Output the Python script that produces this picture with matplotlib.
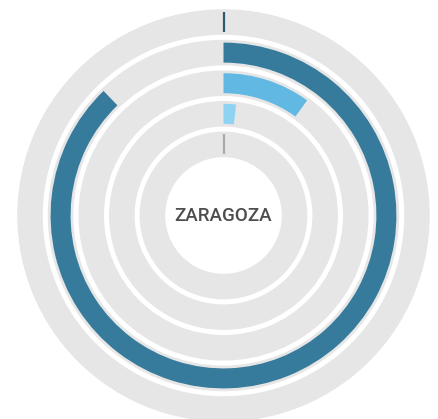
import numpy as np
import matplotlib
matplotlib.use("Agg")
import matplotlib.pyplot as plt

# ============================================
# Data (outer ring -> inner ring, share of full circle)
# ============================================
ring_values = [0.0, 0.878, 0.10, 0.018, 0.0]
ring_colors = ["#2b5b72", "#367b9c", "#61b9e3", "#8fd3f3", "#a9a9a9"]
center_label = "ZARAGOZA"

# ring geometry (in px-like radial units)
r_max = 206.5
ring_mid = [193.5 - 30.6 * k for k in range(len(ring_values))]
track_half = 12.8
bar_half = 10.0

# ============================================
# Plot
# ============================================
fig = plt.figure(figsize=(4.38, 4.19), dpi=100)
ax = fig.add_axes([17 / 438, -3 / 419, 413 / 438, 413 / 419], projection="polar")
ax.set_theta_zero_location("N")
ax.set_theta_direction(-1)
ax.set_rlim(0, r_max)
ax.axis("off")

for r, v, c in zip(ring_mid, ring_values, ring_colors):
    # gray background track
    ax.bar(0, 2 * track_half, width=2 * np.pi, bottom=r - track_half,
           color="#e6e6e6", edgecolor="none", align="edge")
    if v > 0:
        ax.bar(0, 2 * bar_half, width=v * 2 * np.pi, bottom=r - bar_half,
               color=c, edgecolor="none", align="edge")
    else:
        ax.plot([0, 0], [r - bar_half, r + bar_half], color=c, lw=1.6,
                solid_capstyle="butt")

ax.text(0, 0, center_label, ha="center", va="center", fontsize=13.5,
        family=["Roboto", "DejaVu Sans"], fontweight="medium", color="#4d4d4d")

fig.savefig("out.png", dpi=100)
